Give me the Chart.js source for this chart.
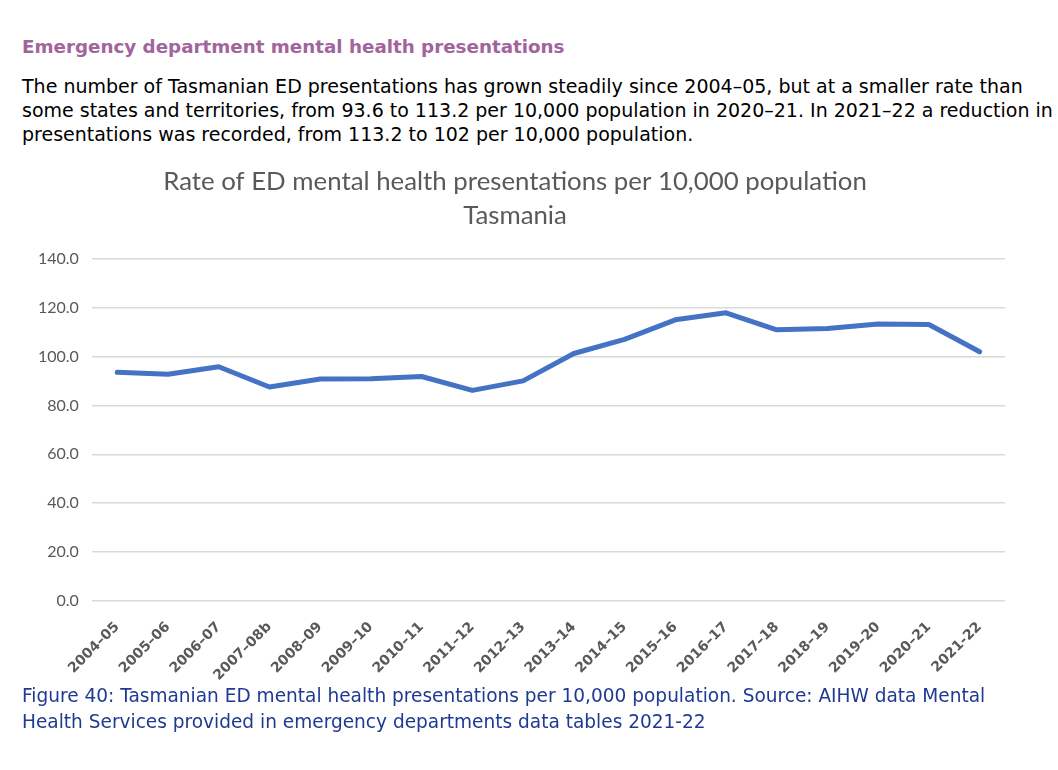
<!DOCTYPE html>
<html>
<head>
<meta charset="utf-8">
<script src="https://cdn.jsdelivr.net/npm/chart.js@4.4.1/dist/chart.umd.min.js"></script>
<style>
    body { margin: 0; background: #fff; width: 1058px; height: 770px; overflow: hidden; position: relative; }
    .txt { position: absolute; left: 22px; font-family: "DejaVu Sans", sans-serif; white-space: nowrap; }
    #heading { top: 36px; font-size: 18.3px; font-weight: bold; color: #a2649c; }
    #intro { top: 74px; font-size: 19px; line-height: 24px; color: #000; }
    #caption { top: 683px; font-size: 18.55px; line-height: 26px; color: #1f3a93; }
    #wrap { position: absolute; left: 4px; top: 161px; width: 1001px; height: 533px; }
</style>
</head>
<body>
<div class="txt" id="heading">Emergency department mental health presentations</div>
<div class="txt" id="intro">The number of Tasmanian ED presentations has grown steadily since 2004–05, but at a smaller rate than<br>some states and territories, from 93.6 to 113.2 per 10,000 population in 2020–21. In 2021–22 a reduction in<br>presentations was recorded, from 113.2 to 102 per 10,000 population.</div>
<div id="wrap"><canvas id="chart"></canvas></div>
<div class="txt" id="caption">Figure 40: Tasmanian ED mental health presentations per 10,000 population. Source: AIHW data Mental<br>Health Services provided in emergency departments data tables 2021-22</div>

<script>
    // Financial years
    var years = [
        '2004–05', '2005–06', '2006–07', '2007–08b', '2008–09', '2009–10',
        '2010–11', '2011–12', '2012–13', '2013–14', '2014–15', '2015–16',
        '2016–17', '2017–18', '2018–19', '2019–20', '2020–21', '2021-22'
    ];

    // Rate per 10,000 population
    var rates = [
        93.6, 92.8, 95.9, 87.6, 90.9, 91.0,
        91.9, 86.2, 90.1, 101.3, 107.1, 115.1,
        118.0, 111.0, 111.6, 113.4, 113.2, 102.0
    ];

    var yMin = 0, yMax = 140, yStep = 20;

    var titleLines = ['Rate of ED mental health presentations per 10,000 population', 'Tasmania'];

    new Chart(document.getElementById('chart'), {
        type: 'line',
        data: {
            labels: years,
            datasets: [{
                data:            rates,
                borderColor:     '#4472c4',
                borderWidth:     5,
                borderJoinStyle: 'round',
                borderCapStyle:  'round',
                pointRadius:     0,
                tension:         0,
                fill:            false,
            }],
        },
        options: {
            responsive: true,
            maintainAspectRatio: false,
            animation: false,
            layout: { padding: { left: 21, right: 0, top: 0, bottom: 0 } },
            plugins: {
                legend: { display: false },
                tooltip: { enabled: false },
                title: {
                    display: true,
                    text: titleLines,
                    color: '#595959',
                    font: { family: 'Lato', size: 25.8, weight: 'normal', lineHeight: 1.3 },
                    padding: { top: 4, bottom: 27 },
                },
            },
            scales: {
                x: {
                    offset: true,
                    grid: { display: false },
                    border: { display: false },
                    ticks: {
                        autoSkip: false,
                        maxRotation: 45,
                        minRotation: 45,
                        color: '#595959',
                        font: { family: 'DejaVu Sans', size: 14, weight: 'bold' },
                        padding: 10,
                    },
                },
                y: {
                    min: yMin,
                    max: yMax,
                    border: { display: false },
                    grid: { color: '#d9d9d9', lineWidth: 1.5, drawTicks: false },
                    ticks: {
                        stepSize: yStep,
                        color: '#595959',
                        padding: 13,
                        font: { family: 'Lato', size: 16 },
                        callback: function (v) { return v.toFixed(1); },
                    },
                },
            },
        },
    });
</script>
</body>
</html>
